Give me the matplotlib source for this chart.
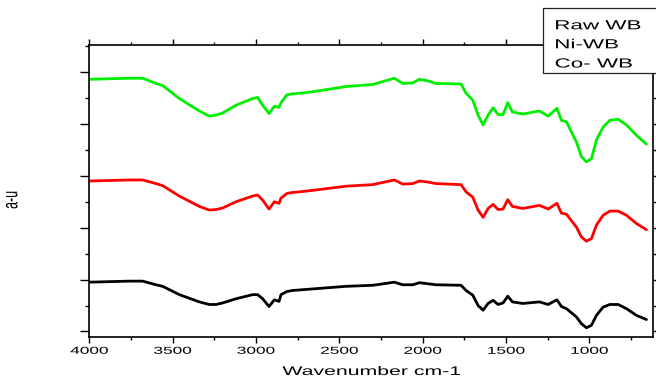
import matplotlib
matplotlib.use("Agg")
import matplotlib.pyplot as plt
from matplotlib.patches import Rectangle
from matplotlib.patheffects import AbstractPathEffect
from matplotlib.ticker import MultipleLocator, NullFormatter
from matplotlib.transforms import Affine2D

# FTIR spectra (arbitrary units, stacked)
wavenumber = [4000, 3760, 3680, 3600, 3560, 3460, 3340, 3280, 3240, 3200,
              3120, 3020, 2990, 2960, 2922, 2890, 2862, 2850, 2815, 2780,
              2740, 2660, 2460, 2300, 2170, 2120, 2060, 2020, 1970, 1920,
              1770, 1740, 1700, 1668, 1638, 1608, 1578, 1548, 1518, 1490,
              1462, 1400, 1300, 1248, 1195, 1168, 1138, 1078, 1048, 1018,
              988, 958, 918, 878, 828, 778, 718, 658]

raw_wb = [0.95, 0.97, 0.97, 0.90, 0.87, 0.71, 0.57, 0.52, 0.52, 0.55,
          0.63, 0.71, 0.71, 0.63, 0.48, 0.61, 0.58, 0.71, 0.77, 0.79,
          0.80, 0.82, 0.87, 0.89, 0.95, 0.90, 0.90, 0.94, 0.92, 0.90,
          0.89, 0.79, 0.70, 0.50, 0.41, 0.54, 0.60, 0.52, 0.55, 0.68,
          0.57, 0.54, 0.57, 0.52, 0.61, 0.48, 0.44, 0.28, 0.15, 0.07,
          0.12, 0.31, 0.47, 0.52, 0.52, 0.44, 0.31, 0.23]

ni_wb = [2.90, 2.92, 2.92, 2.85, 2.81, 2.61, 2.41, 2.34, 2.35, 2.38,
         2.50, 2.61, 2.63, 2.53, 2.36, 2.50, 2.47, 2.57, 2.66, 2.68,
         2.69, 2.72, 2.80, 2.83, 2.92, 2.84, 2.85, 2.90, 2.88, 2.85,
         2.83, 2.69, 2.59, 2.34, 2.20, 2.37, 2.45, 2.35, 2.36, 2.54,
         2.41, 2.37, 2.43, 2.36, 2.47, 2.28, 2.26, 2.01, 1.82, 1.74,
         1.79, 2.05, 2.24, 2.32, 2.32, 2.24, 2.08, 1.96]

co_wb = [4.86, 4.88, 4.88, 4.78, 4.74, 4.49, 4.25, 4.15, 4.17, 4.21,
         4.36, 4.49, 4.51, 4.36, 4.20, 4.34, 4.32, 4.41, 4.56, 4.58,
         4.59, 4.62, 4.72, 4.76, 4.88, 4.78, 4.79, 4.86, 4.83, 4.78,
         4.77, 4.59, 4.46, 4.17, 3.98, 4.17, 4.31, 4.18, 4.18, 4.41,
         4.23, 4.19, 4.25, 4.15, 4.30, 4.07, 4.04, 3.65, 3.37, 3.27,
         3.33, 3.69, 3.94, 4.07, 4.09, 3.98, 3.78, 3.61]

series_names = ["Raw WB", "Ni-WB", "Co- WB"]
series_colors = ["#000000", "#ff0000", "#00ee00"]
x_tick_values = [4000, 3500, 3000, 2500, 2000, 1500, 1000]


class WideGlyphs(AbstractPathEffect):
    """Draw text with its glyphs widened horizontally on the canvas."""

    def __init__(self, factor=1.7, anchor="center"):
        super().__init__()
        self._factor = factor
        self._anchor = anchor

    def draw_path(self, renderer, gc, tpath, affine, rgbFace=None):
        ext = tpath.get_extents(affine)
        x0 = ext.x0 if self._anchor == "left" else 0.5 * (ext.x0 + ext.x1)
        widen = Affine2D().translate(-x0, 0).scale(self._factor, 1.0).translate(x0, 0)
        renderer.draw_path(gc, tpath, affine + widen, rgbFace)


plt.rcParams["font.family"] = ["Liberation Sans", "DejaVu Sans"]

W, H = 656, 379
fig = plt.figure(figsize=(W / 100, H / 100), dpi=100)
left, right, top, bottom = 89.3, 653.3, 45.0, 336.5
ax = fig.add_axes([left / W, 1 - bottom / H, (right - left) / W, (bottom - top) / H])

for ys, col in zip([raw_wb, ni_wb, co_wb], series_colors):
    ax.plot(wavenumber, ys, color=col, lw=2.0,
            solid_joinstyle="round", solid_capstyle="round")

ax.set_xlim(4000, 617)
ax.set_ylim(-0.097, 5.521)

ax.xaxis.set_major_locator(MultipleLocator(500))
ax.xaxis.set_minor_locator(MultipleLocator(250))
ax.yaxis.set_major_locator(MultipleLocator(1))
ax.yaxis.set_minor_locator(MultipleLocator(0.5))
ax.yaxis.set_major_formatter(NullFormatter())
ax.set_xticks(x_tick_values)
ax.set_xticklabels([str(v) for v in x_tick_values])

for sp in ax.spines.values():
    sp.set_linewidth(1.2)

ax.tick_params(axis="x", which="major", direction="out", length=4, width=1.0,
               labelsize=7.3, pad=2.7, top=True)
ax.tick_params(axis="x", which="minor", direction="out", length=2.2, width=1.0, top=True)
ax.tick_params(axis="y", which="major", direction="out", length=6.7, width=1.0,
               right=True)
ax.tick_params(axis="y", which="minor", direction="out", length=3.1, width=1.0,
               right=True)
ax.tick_params(axis="both", which="both", labeltop=False, labelright=False)

for tk in ax.xaxis.get_major_ticks():
    tk.label1.set_path_effects([WideGlyphs(1.7)])

# axis titles
fig.text(left / W + (right - left) / W / 2, 1 - 375 / H, "Wavenumber cm-1",
         ha="center", va="baseline", fontsize=9,
         path_effects=[WideGlyphs(1.7)])
fig.text(12 / W, 1 - 200 / H, "a-u", ha="center", va="center", rotation=90,
         fontsize=9, path_effects=[WideGlyphs(1.7)])

# legend box with the sample names
box = Rectangle((543 / W, 1 - 72.7 / H), 0.3, (72.7 - 8) / H,
                transform=fig.transFigure, facecolor="white",
                edgecolor="#222222", lw=0.9, zorder=10)
fig.add_artist(box)
for name, base in zip(series_names, [29.3, 48.3, 67.5]):
    fig.text(555 / W, 1 - base / H, name, ha="left", va="baseline",
             fontsize=9.5, zorder=11,
             path_effects=[WideGlyphs(1.7, anchor="left")])

fig.savefig("out.png", dpi=100)
